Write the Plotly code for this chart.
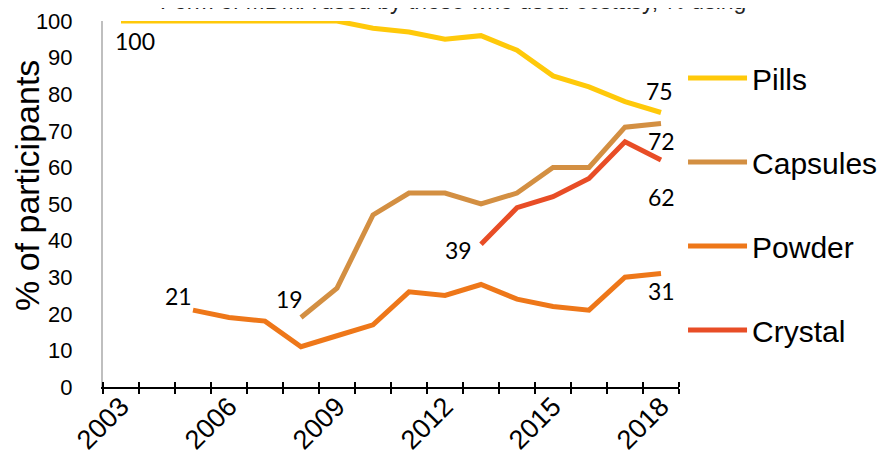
import plotly.graph_objects as go

years = list(range(2003, 2019))
pills = [100, 100, 100, 100, 100, 100, 100, 98, 97, 95, 96, 92, 85, 82, 78, 75]
capsules = [None] * 5 + [19, 27, 47, 53, 53, 50, 53, 60, 60, 71, 72]
powder = [None, None, 21, 19, 18, 11, 14, 17, 26, 25, 28, 24, 22, 21, 30, 31]
crystal = [None] * 10 + [39, 49, 52, 57, 67, 62]
tick_years = [2003, 2006, 2009, 2012, 2015, 2018]

series = [
    ("Pills", pills, "#FFC90A"),
    ("Capsules", capsules, "#D38F42"),
    ("Powder", powder, "#EE7719"),
    ("Crystal", crystal, "#E84D26"),
]

fig = go.Figure()
for i, (name, vals, col) in enumerate(series):
    fig.add_trace(go.Scatter(
        x=years, y=vals, name=name, mode="lines",
        line=dict(color=col, width=5), cliponaxis=False,
        legendgroup=name, hoverinfo="skip",
    ))
# invisible trace to carry the overlaid axis for inward tick marks
fig.add_trace(go.Scatter(x=years, y=pills, xaxis="x2", mode="lines",
                         line=dict(width=0), opacity=0, showlegend=False,
                         hoverinfo="skip"))

# data labels: (series values, index, xshift, yshift)
label_specs = [
    (pills, 0, 14, -20),
    (pills, 15, -2, 22),
    (capsules, 5, -12, 18),
    (capsules, 15, 0, -18),
    (powder, 2, -15, 14),
    (powder, 15, 0, -17),
    (crystal, 10, -23, -6),
    (crystal, 15, 0, -37),
]
annotations = []
for vals, idx, dx, dy in label_specs:
    annotations.append(dict(
        x=years[idx], y=vals[idx], xref="x", yref="y", text=str(vals[idx]),
        showarrow=False, xshift=dx, yshift=dy,
        font=dict(family="Lato", size=23, color="#000000"),
    ))
# y-axis title
annotations.append(dict(
    x=-(103 - 27) / 576, xref="paper", xanchor="center",
    y=(387 - 186) / 366, yref="paper", yanchor="middle",
    text="% of participants", textangle=-90, showarrow=False,
    font=dict(family="Liberation Sans", size=34, color="#000000"),
))
# partially visible chart title at the very top (cut off in the source image)
annotations.append(dict(
    x=(158 - 103) / 576, xref="paper", xanchor="left",
    y=1, yref="paper", yanchor="bottom",
    text="Form of MDMA used by those who used ecstasy, % using",
    showarrow=False, yshift=5,
    font=dict(family="Liberation Sans", size=23, color="#222222"),
))

# the page body adds an 8px offset, so the figure is 8px smaller and
# margins are reduced by 8px on the left/top
fig.update_layout(
    width=878, height=450,
    margin=dict(l=95, r=207, t=13, b=71, autoexpand=False),
    paper_bgcolor="white", plot_bgcolor="white",
    showlegend=True,
    legend=dict(
        x=1.007, xanchor="left", y=0.915, yanchor="top",
        font=dict(family="Liberation Sans", size=30, color="#000000"),
        tracegroupgap=42, bgcolor="rgba(0,0,0,0)", itemwidth=59,
    ),
    xaxis=dict(
        range=[2002.5, 2018.5], tickvals=tick_years, ticks="",
        tickangle=-45, showgrid=False, zeroline=False, automargin=False,
        showline=True, linecolor="#000000", linewidth=2,
        ticklabelstandoff=-9,
        tickfont=dict(family="Liberation Sans", size=27, color="#000000"),
        minor=dict(tickvals=[y - 0.5 for y in years] + [2018.5], ticks="outside",
                   ticklen=5, tickwidth=2, tickcolor="#000000", showgrid=False),
    ),
    xaxis2=dict(
        overlaying="x", anchor="y", side="bottom", matches="x",
        range=[2002.5, 2018.5], showticklabels=False, ticks="",
        showgrid=False, zeroline=False, showline=False, automargin=False,
        minor=dict(tickvals=[y - 0.5 for y in years] + [2018.5], ticks="inside",
                   ticklen=5, tickwidth=2, tickcolor="#000000", showgrid=False),
    ),
    yaxis=dict(
        range=[0, 100], tickvals=list(range(0, 101, 10)), ticks="",
        showgrid=False, zeroline=False, showline=True, automargin=False,
        linecolor="#BFBFBF", linewidth=2, ticklabelstandoff=24,
        tickfont=dict(family="Liberation Sans", size=22, color="#000000"),
    ),
    annotations=annotations,
)

fig.write_html("out.html")
